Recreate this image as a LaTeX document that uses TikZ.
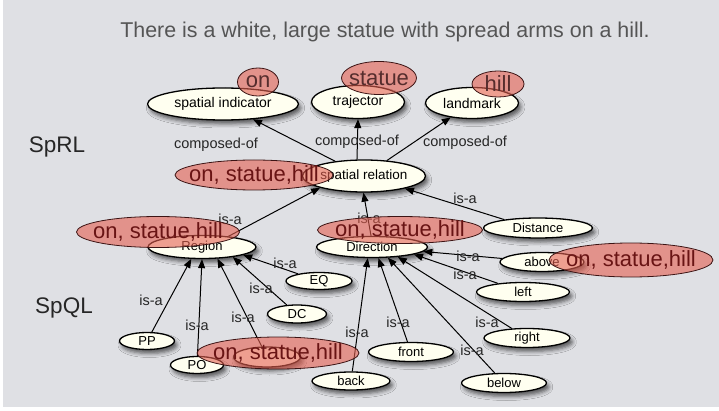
\documentclass[tikz,border=0pt]{standalone}
\usepackage{fontspec}
\setmainfont{Liberation Sans}
\usetikzlibrary{shapes.geometric,arrows.meta,shadows.blur}
\definecolor{slidebg}{RGB}{223,224,228}
\definecolor{ivory}{RGB}{255,255,240}
\definecolor{hlred}{RGB}{228,95,80}
\definecolor{hlline}{RGB}{60,20,20}
\definecolor{hltext}{RGB}{105,20,20}
\definecolor{wordtext}{RGB}{85,45,45}
\definecolor{titlegray}{RGB}{85,85,85}

\begin{document}
\begin{tikzpicture}[x=1pt,y=-1pt,
  concept/.style={ellipse, draw=black, line width=1.3pt, fill=ivory,
    inner xsep=-30pt, inner ysep=-8pt, font=\fontsize{13}{15}\selectfont,
    blur shadow={shadow xshift=2.5pt, shadow yshift=-4pt,
      shadow blur radius=4pt, shadow opacity=60}},
  topconcept/.style={concept, font=\fontsize{14}{16}\selectfont},
  hl/.style={ellipse, draw=hlline, line width=0.8pt, fill=hlred,
    fill opacity=0.6, text opacity=1, text=hltext,
    inner xsep=-40pt, inner ysep=-10pt, font=\fontsize{22}{24}\selectfont},
  word/.style={hl, text=wordtext},
  rel/.style={line width=1pt, -{Triangle[length=9pt,width=7pt]}},
  lbl/.style={font=\fontsize{14.5}{16}\selectfont, text=black!85, inner sep=0pt},
  layer/.style={font=\fontsize{22.5}{24}\selectfont, text=black!85, inner sep=0pt, anchor=base},
]
\useasboundingbox (0,0) rectangle (719,411);
% slide background with its light frame
\fill[white] (0,0) rectangle (719,411);
\fill[slidebg] (3,0) rectangle (719,407);

% sentence and layer names
\node[font=\fontsize{21.4}{24}\selectfont, text=titlegray] (title) at (385,32)
  {There is a white, large statue with spread arms on a hill.};
\node[layer] (sprl) at (57,153) {SpRL};
\node[layer] (spql) at (64,313) {SpQL};

% SpRL concepts
\node[topconcept, minimum width=151pt, minimum height=32pt] (si) at (223,104) {spatial indicator};
\node[topconcept, minimum width=93pt, minimum height=33pt] (traj) at (358,102) {trajector};
\node[topconcept, minimum width=93pt, minimum height=31pt] (lm) at (472,103) {landmark};
\node[concept, font=\fontsize{13.5}{15}\selectfont, minimum width=123pt, minimum height=32pt] (sr) at (364,176) {spatial relation};

% SpQL concepts
\node[concept, minimum width=108pt, minimum height=23pt] (region) at (202,247) {Region};
\node[concept, minimum width=111pt, minimum height=21pt] (direction) at (372,247) {Direction};
\node[concept, minimum width=109pt, minimum height=20pt] (distance) at (538,228) {Distance};
\node[concept, minimum width=84pt, minimum height=19pt] (above) at (542,262) {above};
\node[concept, minimum width=93pt, minimum height=19pt] (left) at (523,292) {left};
\node[concept, minimum width=86pt, minimum height=19pt] (right) at (527,338) {right};
\node[concept, minimum width=85pt, minimum height=19pt] (below) at (504,383) {below};
\node[concept, minimum width=85pt, minimum height=19pt] (front) at (411,352) {front};
\node[concept, minimum width=78pt, minimum height=18pt] (back) at (351,381) {back};
\node[concept, minimum width=66pt, minimum height=17pt] (eq) at (319,281) {EQ};
\node[concept, minimum width=59pt, minimum height=18pt] (dc) at (297,314) {DC};
\node[concept, minimum width=55pt, minimum height=17pt] (pp) at (147,341) {PP};
\node[concept, minimum width=53pt, minimum height=17pt] (po) at (197,365) {PO};
\node[concept, minimum width=67pt, minimum height=20pt] (ntpp) at (267,357) {};

% composed-of relations
\draw[rel] (sr) -- (si) node[lbl] at (216,145) {composed-of};
\draw[rel] (sr.113) -- (traj.south) node[lbl] at (357,142) {composed-of};
\draw[rel] (sr) -- (lm) node[lbl] at (465,143) {composed-of};

% is-a relations towards spatial relation
\draw[rel] (region.22) -- (sr.195) node[lbl] at (230,219) {is-a};
\draw[rel] (direction.95) -- (sr.268) node[lbl] at (369,218) {is-a};
\draw[rel] (distance.166) -- (sr.343) node[lbl] at (465,198) {is-a};

% is-a relations towards Region
\draw[rel] (pp) -- (region.228.5) node[lbl] at (151,300) {is-a};
\draw[rel] (po) -- (region.270) node[lbl] at (197,325) {is-a};
\draw[rel] (ntpp) -- (region.323.6) node[lbl] at (243,317) {is-a};
\draw[rel] (dc) -- (region.342) node[lbl] at (261,288) {is-a};
\draw[rel] (eq) -- (region.349) node[lbl] at (285,263) {is-a};

% is-a relations towards Direction
\draw[rel] (back) -- (direction.249) node[lbl] at (357,332) {is-a};
\draw[rel] (front) -- (direction.300) node[lbl] at (398,322) {is-a};
\draw[rel] (below) -- (direction.326) node[lbl] at (472,350) {is-a};
\draw[rel] (right) -- (direction.339) node[lbl] at (487,322) {is-a};
\draw[rel] (left) -- (direction.350) node[lbl] at (465,274) {is-a};
\draw[rel] (above) -- (direction.355) node[lbl] at (468,256) {is-a};

% highlighted words of the sentence
\node[word, minimum width=41pt, minimum height=28pt] (hon) at (258,82) {on};
\node[word, minimum width=75pt, minimum height=33pt] (hstatue) at (379,78) {statue};
\node[word, minimum width=52pt, minimum height=26pt] (hhill) at (498,84) {hill};
\node[hl, minimum width=158pt, minimum height=30pt] (hsr) at (254,175) {on, statue,hill};
\node[hl, minimum width=163pt, minimum height=31pt] (hregion) at (158,232) {on, statue,hill};
\node[hl, minimum width=165pt, minimum height=27pt] (hdirection) at (400,230) {on, statue,hill};
\node[hl, minimum width=164pt, minimum height=34pt] (habove) at (631,260) {on, statue,hill};
\node[hl, minimum width=162pt, minimum height=32pt] (hntpp) at (278,353) {on, statue,hill};
\end{tikzpicture}
\end{document}
